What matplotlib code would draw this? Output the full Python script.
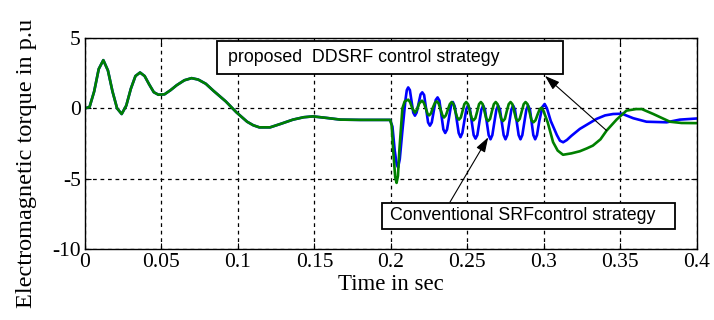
import matplotlib

matplotlib.use("Agg")
import matplotlib.pyplot as plt
from matplotlib.patches import Rectangle

# start-up transient (identical for both controllers up to the fault)
t_common = [0.0, 0.003, 0.006, 0.009, 0.012, 0.015, 0.018, 0.021, 0.024,
            0.027, 0.030, 0.033, 0.036, 0.039, 0.042, 0.045, 0.048, 0.052,
            0.056, 0.060, 0.065, 0.0697, 0.074, 0.079, 0.084, 0.092, 0.099,
            0.106, 0.110, 0.114, 0.121, 0.128, 0.136, 0.143, 0.149, 0.158,
            0.167, 0.180, 0.1995]
te_common = [0.0, 0.1, 1.2, 2.8, 3.43, 2.7, 1.2, 0.0, -0.4,
             0.2, 1.4, 2.3, 2.55, 2.3, 1.7, 1.15, 0.97, 1.0,
             1.3, 1.65, 2.0, 2.15, 2.05, 1.75, 1.25, 0.5, -0.28,
             -0.95, -1.2, -1.35, -1.35, -1.1, -0.8, -0.63, -0.57, -0.68,
             -0.8, -0.82, -0.82]

# proposed DDSRF controller (blue) after the fault at t = 0.2 s
t_ddsrf = [0.2010, 0.2025, 0.2038, 0.2047, 0.2058, 0.2075, 0.2095, 0.2104,
           0.2113, 0.2124, 0.2135, 0.2146, 0.2157, 0.2168, 0.2181, 0.2194,
           0.2205, 0.2217, 0.2230, 0.2243, 0.2255, 0.2267, 0.2280, 0.2293,
           0.2305, 0.2317, 0.2330, 0.2343, 0.2355, 0.2367, 0.2380, 0.2393,
           0.2405, 0.2417, 0.2430, 0.2443, 0.2455, 0.2467, 0.2480, 0.2493,
           0.2505, 0.2517, 0.2529, 0.2541, 0.2553, 0.2565, 0.2578, 0.2591,
           0.2603, 0.2615, 0.2627, 0.2639, 0.2651, 0.2663, 0.2676, 0.2689,
           0.2701, 0.2713, 0.2725, 0.2737, 0.2749, 0.2761, 0.2774, 0.2787,
           0.2799, 0.2811, 0.2823, 0.2835, 0.2847, 0.2859, 0.2872, 0.2885,
           0.2897, 0.2909, 0.2920, 0.2931, 0.2943, 0.2955, 0.2970, 0.2990,
           0.3005, 0.3020, 0.3045, 0.3085, 0.3105, 0.3126, 0.3150, 0.318,
           0.3235, 0.329, 0.3344, 0.340, 0.3453, 0.351, 0.3584, 0.3671,
           0.3802, 0.3889, 0.4]
te_ddsrf = [-1.3, -3.0, -4.0, -4.2, -3.6, -1.6, 0.6, 1.3,
            1.49, 1.3, 0.5, -0.3, -0.52, -0.3, 0.35, 1.0,
            1.14, 0.95, -0.05, -1.0, -1.23, -1.0, -0.2, 0.6,
            0.78, 0.55, -0.5, -1.5, -1.75, -1.5, -0.65, 0.2,
            0.45, 0.15, -0.8, -1.75, -2.05, -1.75, -0.9, -0.05,
            0.22, -0.1, -1.0, -1.9, -2.15, -1.9, -1.0, -0.1,
            0.2, -0.1, -1.0, -1.9, -2.2, -1.9, -1.0, -0.1,
            0.2, -0.1, -1.0, -1.9, -2.2, -1.9, -1.0, -0.1,
            0.2, -0.1, -1.0, -1.9, -2.2, -1.9, -1.0, -0.1,
            0.2, -0.1, -1.0, -1.9, -2.2, -1.9, -0.9, 0.1,
            0.31, 0.0, -0.9, -1.9, -2.3, -2.41, -2.25, -1.95,
            -1.46, -1.1, -0.75, -0.5, -0.4, -0.38, -0.7, -0.95,
            -0.99, -0.8, -0.72]

# conventional SRF controller (green) after the fault at t = 0.2 s
t_srf = [0.2005, 0.2015, 0.2028, 0.2037, 0.2046, 0.2055, 0.2075, 0.2090,
         0.2113, 0.2125, 0.2140, 0.2157, 0.2170, 0.2185, 0.2203, 0.2215,
         0.2228, 0.2240, 0.2250, 0.2262, 0.2276, 0.2288, 0.2300, 0.2312,
         0.2325, 0.2337, 0.2347, 0.2359, 0.2372, 0.2385, 0.2397, 0.2409,
         0.2421, 0.2433, 0.2445, 0.2457, 0.2468, 0.2480, 0.2492, 0.2504,
         0.2516, 0.2528, 0.2540, 0.2552, 0.2564, 0.2576, 0.2588, 0.2600,
         0.2612, 0.2624, 0.2636, 0.2648, 0.2660, 0.2673, 0.2685, 0.2697,
         0.2709, 0.2721, 0.2733, 0.2745, 0.2757, 0.2770, 0.2782, 0.2794,
         0.2806, 0.2818, 0.2830, 0.2842, 0.2855, 0.2868, 0.2880, 0.2893,
         0.2906, 0.2919, 0.2932, 0.2945, 0.2960, 0.2973, 0.2985, 0.2998,
         0.3025, 0.3060, 0.3090, 0.3125, 0.318, 0.3235, 0.328, 0.332,
         0.337, 0.341, 0.3475, 0.354, 0.3603, 0.364, 0.3715, 0.3824,
         0.390, 0.4]
te_srf = [-1.2, -3.0, -4.9, -5.3, -4.8, -3.0, 0.0, 0.5,
          0.62, 0.45, 0.0, -0.3, -0.1, 0.35, 0.55, 0.4,
          0.0, -0.4, -0.5, -0.35, 0.1, 0.4, 0.5, 0.35,
          -0.1, -0.5, -0.65, -0.5, -0.1, 0.3, 0.45, 0.3,
          -0.2, -0.65, -0.8, -0.65, -0.2, 0.3, 0.45, 0.3,
          -0.2, -0.7, -0.85, -0.7, -0.22, 0.3, 0.45, 0.3,
          -0.22, -0.75, -0.9, -0.75, -0.22, 0.3, 0.45, 0.3,
          -0.22, -0.75, -0.9, -0.75, -0.22, 0.3, 0.45, 0.3,
          -0.22, -0.75, -0.9, -0.75, -0.22, 0.3, 0.45, 0.3,
          -0.25, -0.85, -0.99, -0.85, -0.4, -0.05, 0.05, -0.2,
          -1.0, -2.4, -3.0, -3.3, -3.2, -3.05, -2.85, -2.65,
          -2.2, -1.58, -0.8, -0.16, -0.05, -0.05, -0.4, -0.95,
          -1.04, -1.05]

x_ticks = [0.0, 0.05, 0.1, 0.15, 0.2, 0.25, 0.3, 0.35, 0.4]
x_ticklabels = ["0", "0.05", "0.1", "0.15", "0.2", "0.25", "0.3", "0.35", "0.4"]
y_ticks = [-10, -5, 0, 5]

serif = ["Liberation Serif", "DejaVu Serif"]
sans = ["Liberation Sans", "DejaVu Sans"]

plt.rcParams["axes.unicode_minus"] = False

fig = plt.figure(figsize=(7.14, 3.2), dpi=100)
ax = fig.add_axes([0.119, 0.222, 0.857, 0.659])

ax.plot(t_common + t_ddsrf, te_common + te_ddsrf, color=(0, 0, 1),
        lw=1.9, solid_joinstyle="round")
ax.plot(t_common + t_srf, te_common + te_srf, color=(0, 0.5, 0),
        lw=1.9, solid_joinstyle="round")

ax.set_xlim(0, 0.4)
ax.set_ylim(-10, 5)
ax.set_xticks(x_ticks)
ax.set_xticklabels(x_ticklabels)
ax.set_yticks(y_ticks)
ax.grid(True, color="black", linestyle=(0, (3, 3)), linewidth=0.9)
ax.tick_params(direction="in", length=4, top=True, right=True,
               labelsize=15.5, pad=3)
for lbl in ax.get_xticklabels() + ax.get_yticklabels():
    lbl.set_fontfamily(serif)
for sp in ax.spines.values():
    sp.set_linewidth(1.0)

ax.set_xlabel("Time in sec", fontsize=16.5, family=serif, labelpad=1)
# y label sits a little below the axes centre
fig.text(0.037, 0.49, "Electromagnetic torque in p.u", fontsize=17.5,
         family=serif, rotation=90, ha="center", va="center")

# annotation boxes with arrows
ax.add_patch(Rectangle((0.0863, 2.46), 0.2261, 2.34, fill=True,
                       facecolor="white", edgecolor="black", lw=1.3,
                       zorder=4))
ax.text(0.0935, 3.6, "proposed  DDSRF control strategy", fontsize=12.8,
        family=sans, va="center", ha="left", zorder=5)
ax.add_patch(Rectangle((0.1939, -8.55), 0.1917, 1.84, fill=True,
                       facecolor="white", edgecolor="black", lw=1.3,
                       zorder=4))
ax.text(0.1993, -7.65, "Conventional SRFcontrol strategy", fontsize=12.8,
        family=sans, va="center", ha="left", zorder=5)

arrow = dict(arrowstyle="-|>,head_length=0.9,head_width=0.3", color="black",
             lw=0.8, shrinkA=0, shrinkB=0)
ax.annotate("", xy=(0.3007, 2.31), xytext=(0.341, -1.58), arrowprops=arrow,
            zorder=6)
ax.annotate("", xy=(0.2636, -2.06), xytext=(0.2386, -6.67), arrowprops=arrow,
            zorder=6)

fig.savefig("out.png", dpi=100)
